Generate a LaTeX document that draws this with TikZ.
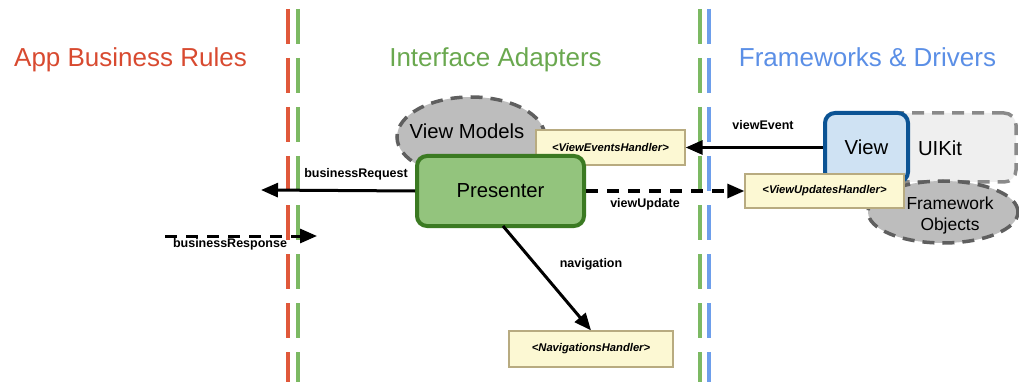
\documentclass[tikz,border=0pt]{standalone}
\usepackage{fontspec}
\setmainfont{Liberation Sans}
\usetikzlibrary{arrows.meta,shapes.geometric}

\definecolor{ruleRed}{HTML}{D84A30}
\definecolor{ruleGreen}{HTML}{6AA84F}
\definecolor{ruleBlue}{HTML}{5B8FE6}
\definecolor{lineRed}{HTML}{E0583A}
\definecolor{lineGreen}{HTML}{7CB963}
\definecolor{lineBlue}{HTML}{6D9EEB}
\definecolor{presFill}{HTML}{93C47D}
\definecolor{presEdge}{HTML}{3B7A22}
\definecolor{viewFill}{HTML}{CFE2F3}
\definecolor{viewEdge}{HTML}{0B5394}
\definecolor{handlerFill}{HTML}{FCF8D3}
\definecolor{handlerEdge}{HTML}{B8AB80}
\definecolor{blobFill}{HTML}{BDBDBD}
\definecolor{blobEdge}{HTML}{5F5F5F}
\definecolor{kitFill}{HTML}{EFEFEF}
\definecolor{kitEdge}{HTML}{8A8A8A}

\tikzset{
  boundary/.style={line width=4pt, dash pattern=on 35pt off 14pt},
  layertitle/.style={anchor=base, font=\fontsize{26}{29}\selectfont},
  handler/.style={draw=handlerEdge, fill=handlerFill, line width=1.3pt,
    minimum height=35pt, inner sep=0pt,
    font=\fontsize{11.2}{13}\selectfont\bfseries\itshape},
  blob/.style={ellipse, draw=blobEdge, fill=blobFill, line width=3.5pt,
    dash pattern=on 12pt off 8pt, inner sep=0pt},
  bigtext/.style={font=\fontsize{20.3}{24}\selectfont},
  flow/.style={line width=3pt, -{Triangle[length=17pt,width=14pt]}},
  dashedflow/.style={flow, dash pattern=on 12pt off 9pt},
  flowlabel/.style={font=\fontsize{12.5}{14}\selectfont\bfseries, inner sep=0pt}
}

\begin{document}
\begin{tikzpicture}[x=1pt,y=-1pt]
\useasboundingbox (0,0) rectangle (1019,382);

% layer boundaries
\draw[boundary, lineRed]   (287.5,9) -- (287.5,382);
\draw[boundary, lineGreen] (297.5,9) -- (297.5,382);
\draw[boundary, lineGreen] (699.5,9) -- (699.5,382);
\draw[boundary, lineBlue]  (708.5,9) -- (708.5,382);

% layer titles
\node[layertitle, text=ruleRed]   (tApp)   at (130.5,67) {App Business Rules};
\node[layertitle, text=ruleGreen] (tIface) at (495.5,67) {Interface Adapters};
\node[layertitle, text=ruleBlue]  (tFw)    at (867.5,67) {Frameworks \& Drivers};

% view models and presenter
\node[blob, minimum width=148pt, minimum height=80pt] (vm) at (471,137) {};
\node[bigtext] (vmText) at (467,131) {View Models};
\node[handler, minimum width=149pt] (veh) at (610.5,147.5) {<ViewEventsHandler>};
\node[draw=presEdge, fill=presFill, line width=4pt, rounded corners=10pt,
      minimum width=167pt, minimum height=70pt, bigtext] (pres) at (500.5,191) {Presenter};

% frameworks side
\node[draw=kitEdge, fill=kitFill, line width=3.5pt, dash pattern=on 12pt off 8pt,
      rounded corners=12pt, minimum width=186pt, minimum height=69pt] (kit) at (923,147.5) {};
\node[bigtext] (kitText) at (940,148) {UIKit};
\node[blob, minimum width=150pt, minimum height=62pt] (fo) at (943,212) {};
\node[align=center, font=\fontsize{17.4}{21}\selectfont] (foText) at (950,216) {Framework\\Objects};
\node[draw=viewEdge, fill=viewFill, line width=4pt, rounded corners=10pt,
      minimum width=83pt, minimum height=69pt, bigtext] (view) at (866.5,147.5) {View};
\node[handler, minimum width=159pt, minimum height=34pt] (vuh) at (824.5,191) {<ViewUpdatesHandler>};

% navigation target
\node[handler, minimum width=164pt, minimum height=36pt] (nav) at (591,349) {<NavigationsHandler>};

% free ends of the business arrows
\coordinate (reqEnd)   at (261,190);
\coordinate (respFrom) at (165,236);
\coordinate (respTo)   at (317,236);
\coordinate (presOut)  at (503,226);

% connectors
\draw[flow] (view.west) -- (veh.east);
\node[flowlabel] (lEvent) at (763,125) {viewEvent};

\draw[flow] (pres.west) -- (reqEnd);
\node[flowlabel] (lReq) at (356,174) {businessRequest};

\draw[dashedflow] (respFrom) -- (respTo);
\node[flowlabel] (lResp) at (230,244) {businessResponse};

\draw[dashedflow] (pres.east |- vuh.west) -- (vuh.west);
\node[flowlabel] (lUpd) at (645,204) {viewUpdate};

\draw[flow] (presOut) -- (nav.north);
\node[flowlabel] (lNav) at (591,264) {navigation};
\end{tikzpicture}
\end{document}
